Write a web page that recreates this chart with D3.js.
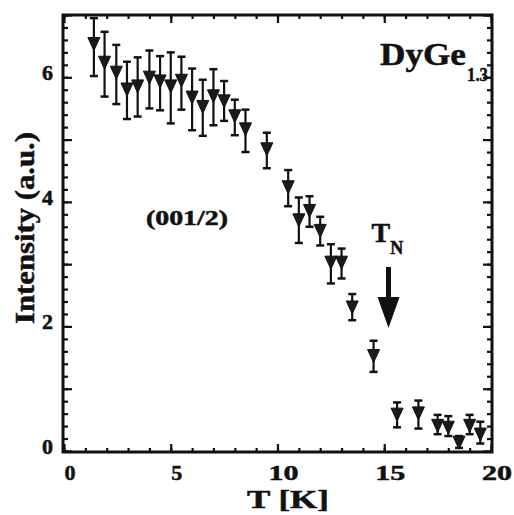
<!DOCTYPE html>
<html>
<head>
<meta charset="utf-8">
<script src="https://cdn.jsdelivr.net/npm/d3@7/dist/d3.min.js"></script>
<style>
  body { margin: 0; background: #fff; }
  text { font-family: "Liberation Serif", "Times New Roman", serif; font-weight: bold; fill: #111; stroke: #111; stroke-width: 0.5; }
</style>
</head>
<body>
<svg id="chart" width="514" height="515"></svg>
<script>
// temperature (K) of each measured point
const temps = [1.4, 1.9, 2.45, 2.95, 3.45, 4.0, 4.5, 5.0, 5.5, 6.0, 6.5, 7.0, 7.5, 8.0, 8.5,
  9.5, 10.5, 11.0, 11.5, 12.0, 12.5, 13.0, 13.5, 14.5, 15.6, 16.6, 17.5, 18.0, 18.5, 19.0, 19.5];
// (001/2) peak intensity (a.u.)
const intensity = [6.55, 6.25, 6.09, 5.82, 5.87, 6.01, 5.95, 5.87, 5.96, 5.69, 5.54, 5.71, 5.63, 5.39, 5.18,
  4.86, 4.25, 3.72, 3.87, 3.55, 3.04, 3.04, 2.32, 1.54, 0.60, 0.62, 0.42, 0.39, 0.15, 0.42, 0.28];
// error bar ends
const errUpper = [6.95, 6.73, 6.52, 6.25, 6.32, 6.43, 6.34, 6.40, 6.33, 6.14, 5.96, 6.13, 5.94, 5.64, 5.48,
  5.11, 4.51, 4.07, 4.09, 3.76, 3.32, 3.25, 2.52, 1.77, 0.78, 0.81, 0.58, 0.56, 0.24, 0.58, 0.47];
const errLower = [6.02, 5.69, 5.57, 5.33, 5.37, 5.50, 5.47, 5.26, 5.48, 5.15, 5.06, 5.23, 5.30, 5.07, 4.80,
  4.54, 3.93, 3.34, 3.60, 3.30, 2.69, 2.77, 2.10, 1.27, 0.38, 0.36, 0.27, 0.24, 0.05, 0.27, 0.12];

const xTickLabels = [0, 5, 10, 15, 20];
const yTickLabels = [0, 2, 4, 6];
const transitionT = 15.2;

const svg = d3.select('#chart');
const plotLeft = 63, plotRight = 492, plotTop = 15, plotBottom = 452;

const x = d3.scaleLinear().domain([0, 20]).range([64, 491]);
const y = d3.scaleLinear().domain([0, 7]).range([451, 15]);

const points = temps.map((t, i) => ({ t, v: intensity[i], hi: errUpper[i], lo: errLower[i] }));

// ticks on all four sides, pointing inward
function tickAxis(axis, transform, minorVals, majorVals, minorLen, majorLen) {
  [[minorVals, minorLen], [majorVals, majorLen]].forEach(([vals, len]) => {
    const g = svg.append('g')
      .attr('transform', transform)
      .call(axis.tickValues(vals).tickSize(-len).tickFormat(''));
    g.select('.domain').remove();
    g.selectAll('line').attr('stroke', '#111').attr('stroke-width', 2.2);
  });
}

const xMinor = d3.range(0, 21, 1);
const xMajor = [0, 5, 10, 15, 20];
const yMinor = d3.range(0, 36).map(i => i * 0.2);
const yMajor = d3.range(0, 8);

tickAxis(d3.axisBottom(x), `translate(0,${plotBottom})`, xMinor, xMajor, 4, 8);
tickAxis(d3.axisTop(x), `translate(0,${plotTop})`, xMinor, xMajor, 4, 8);
tickAxis(d3.axisLeft(y), `translate(${plotLeft},0)`, yMinor, yMajor, 5, 9);
tickAxis(d3.axisRight(y), `translate(${plotRight},0)`, yMinor, yMajor, 5, 9);

svg.append('rect')
  .attr('x', plotLeft)
  .attr('y', plotTop)
  .attr('width', plotRight - plotLeft)
  .attr('height', plotBottom - plotTop)
  .attr('fill', 'none')
  .attr('stroke', '#111')
  .attr('stroke-width', 3);

// tick labels
svg.selectAll('.xlab')
  .data(xTickLabels)
  .join('text')
  .attr('class', 'xlab')
  .attr('x', d => x(d) + 6)
  .attr('y', 480)
  .attr('text-anchor', 'middle')
  .attr('font-size', 21)
  .attr('textLength', d => d >= 10 ? 30 : 11)
  .attr('lengthAdjust', 'spacingAndGlyphs')
  .text(d => d);

svg.selectAll('.ylab')
  .data(yTickLabels)
  .join('text')
  .attr('class', 'ylab')
  .attr('x', 53)
  .attr('y', d => y(d) + 3)
  .attr('text-anchor', 'end')
  .attr('font-size', 20)
  .attr('textLength', 11)
  .attr('lengthAdjust', 'spacingAndGlyphs')
  .text(d => d);

// axis titles
svg.append('text')
  .attr('x', 288)
  .attr('y', 508)
  .attr('text-anchor', 'middle')
  .attr('font-size', 25)
  .attr('textLength', 82)
  .attr('lengthAdjust', 'spacingAndGlyphs')
  .text('T [K]');

svg.append('text')
  .attr('transform', 'translate(34,228) rotate(-90)')
  .attr('text-anchor', 'middle')
  .attr('font-size', 28)
  .attr('textLength', 192)
  .attr('lengthAdjust', 'spacingAndGlyphs')
  .text('Intensity (a.u.)');

// annotations
svg.append('text')
  .attr('x', 380)
  .attr('y', 65)
  .attr('font-size', 31)
  .attr('textLength', 86)
  .attr('lengthAdjust', 'spacingAndGlyphs')
  .text('DyGe');
svg.append('text')
  .attr('x', 467)
  .attr('y', 81)
  .attr('font-size', 19)
  .attr('textLength', 21)
  .attr('lengthAdjust', 'spacingAndGlyphs')
  .text('1.3');

svg.append('text')
  .attr('x', 146)
  .attr('y', 225)
  .attr('font-size', 20)
  .attr('textLength', 82)
  .attr('lengthAdjust', 'spacingAndGlyphs')
  .text('(001/2)');

const tn = svg.append('text')
  .attr('x', x(transitionT) - 17)
  .attr('y', 242)
  .attr('font-size', 28);
tn.append('tspan').text('T');
tn.append('tspan').attr('font-size', 18).attr('dy', 12).text('N');

// arrow marking T_N
const ax = x(transitionT);
svg.append('line')
  .attr('x1', ax).attr('x2', ax)
  .attr('y1', 267).attr('y2', 300)
  .attr('stroke', '#111')
  .attr('stroke-width', 5);
svg.append('path')
  .attr('d', `M${ax - 11},297 L${ax + 11},297 L${ax},328 Z`)
  .attr('fill', '#111');

// error bars
const bars = svg.append('g');
bars.selectAll('.eb')
  .data(points)
  .join('line')
  .attr('x1', d => x(d.t)).attr('x2', d => x(d.t))
  .attr('y1', d => y(Math.min(d.hi, 6.95))).attr('y2', d => y(d.lo))
  .attr('stroke', '#111')
  .attr('stroke-width', 2.2);
['hi', 'lo'].forEach(k => {
  bars.selectAll('.cap-' + k)
    .data(points)
    .join('line')
    .attr('x1', d => x(d.t) - 4).attr('x2', d => x(d.t) + 4)
    .attr('y1', d => y(d[k])).attr('y2', d => y(d[k]))
    .attr('stroke', '#111')
    .attr('stroke-width', 2.5);
});

// down-pointing triangle markers
svg.append('g')
  .selectAll('path')
  .data(points)
  .join('path')
  .attr('transform', d => `translate(${x(d.t)},${y(d.v)})`)
  .attr('d', 'M-6,-5.5 L6,-5.5 L0,7.5 Z')
  .attr('fill', '#1a1a1a')
  .attr('stroke', '#111')
  .attr('stroke-width', 1);
</script>
</body>
</html>
